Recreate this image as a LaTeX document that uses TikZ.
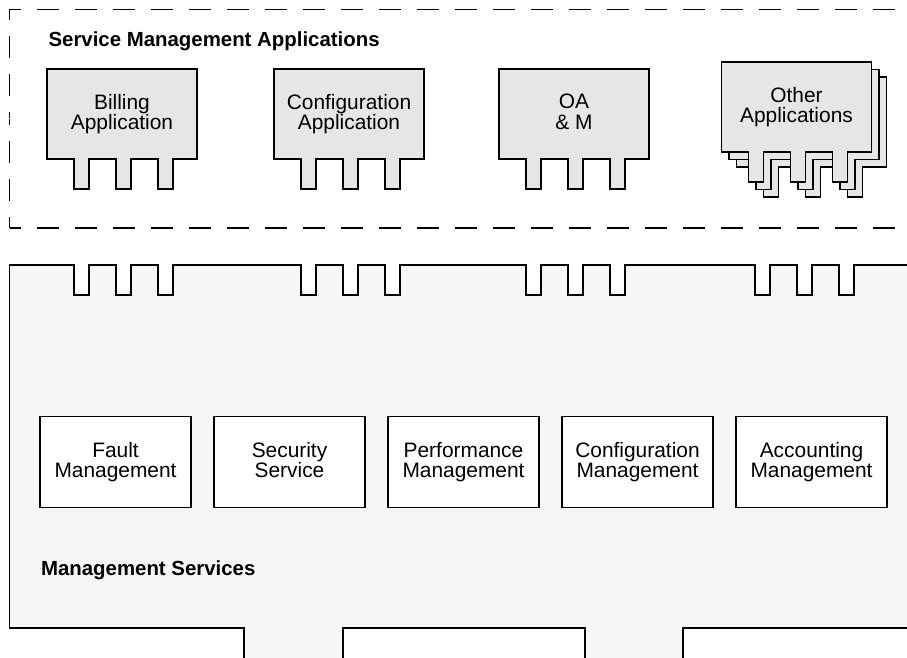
\documentclass[tikz,border=0pt]{standalone}
\usepackage{fontspec}
\setmainfont{Liberation Sans}
\definecolor{appgray}{HTML}{E6E6E6}
\definecolor{panelgray}{HTML}{F6F6F6}
\def\pintop{265}
\def\pinlen{30}
\def\pinw{15}

\tikzset{
  app/.style={minimum width=75pt, minimum height=45pt, inner sep=0pt, align=center},
  svc/.style={draw, fill=white, minimum width=75.5pt, minimum height=45.5pt,
    inner sep=0pt, align=center},
  title/.style={font=\fontsize{10.2}{10.2}\selectfont\bfseries, anchor=base west, inner sep=0pt},
  frame/.style={dash pattern=on 11pt off 8pt, dash phase=5.5pt},
}

% box outline with three pins hanging below it, then its text
\newcommand\appbox[4]{
  \draw[fill=appgray] ({#2-75},{#3-45}) -- ++(150,0) -- ++(0,90)
    \foreach \o in {126,84,42} {
      -- ({#2-75+\o},{#3+45}) -- ++(0,\pinlen) -- ++(-\pinw,0) -- ++(0,-\pinlen)
    } -- ({#2-75},{#3+45}) -- cycle;
  \node[app] (#1) at (#2,#3) {#4};
}

\begin{document}
\begin{tikzpicture}[x=0.5pt, y=-0.5pt, line width=0.6pt,
    font=\fontsize{10.45}{10.35}\selectfont]
  \useasboundingbox (0,0) rectangle (907,658);

  % applications
  \draw[frame] (9.5,9.5) -- (920,9.5);
  \draw[frame] (9.5,9.5) -- (9.5,118);
  \draw[frame] (9.5,228) -- (920,228);
  \draw[frame] (9.5,228) -- (9.5,119);
  \node[title] (apptitle) at (48,47) {Service Management Applications};

  \appbox{billing}{122}{114}{Billing\\Application}
  \appbox{config}{349}{114}{Configuration\\Application}
  \appbox{oam}{574}{114}{OA\\\& M\vphantom{g}}
  \appbox{otherc}{811.5}{122}{}
  \appbox{otherb}{804}{114.5}{}
  \appbox{other}{796.5}{107}{Other\\Applications}

  % services panel
  \draw[fill=panelgray] (9.5,628) -- (9.5,\pintop)
    \foreach \g in {74,301,526,755} {
      \foreach \o in {0,42,84} {
        -- ({\g+\o},\pintop) -- ++(0,\pinlen) -- ++(\pinw,0) -- ++(0,-\pinlen)
      }
    }
    -- (920,\pintop) -- (920,628) -- (683,628) -- (683,670) -- (585,670)
    -- (585,628) -- (343,628) -- (343,670) -- (244,670) -- (244,628) -- cycle;

  \node[svc] (fault) at (115.5,462) {Fault\\Management};
  \node[svc] (security) at (289.5,462) {Security\\Service\vphantom{g}};
  \node[svc] (perf) at (463.5,462) {Performance\\Management};
  \node[svc] (confmgmt) at (637.5,462) {Configuration\\Management};
  \node[svc] (acct) at (811.5,462) {Accounting\\Management};

  \node[title] (svctitle) at (40.5,575) {Management Services};
\end{tikzpicture}
\end{document}
